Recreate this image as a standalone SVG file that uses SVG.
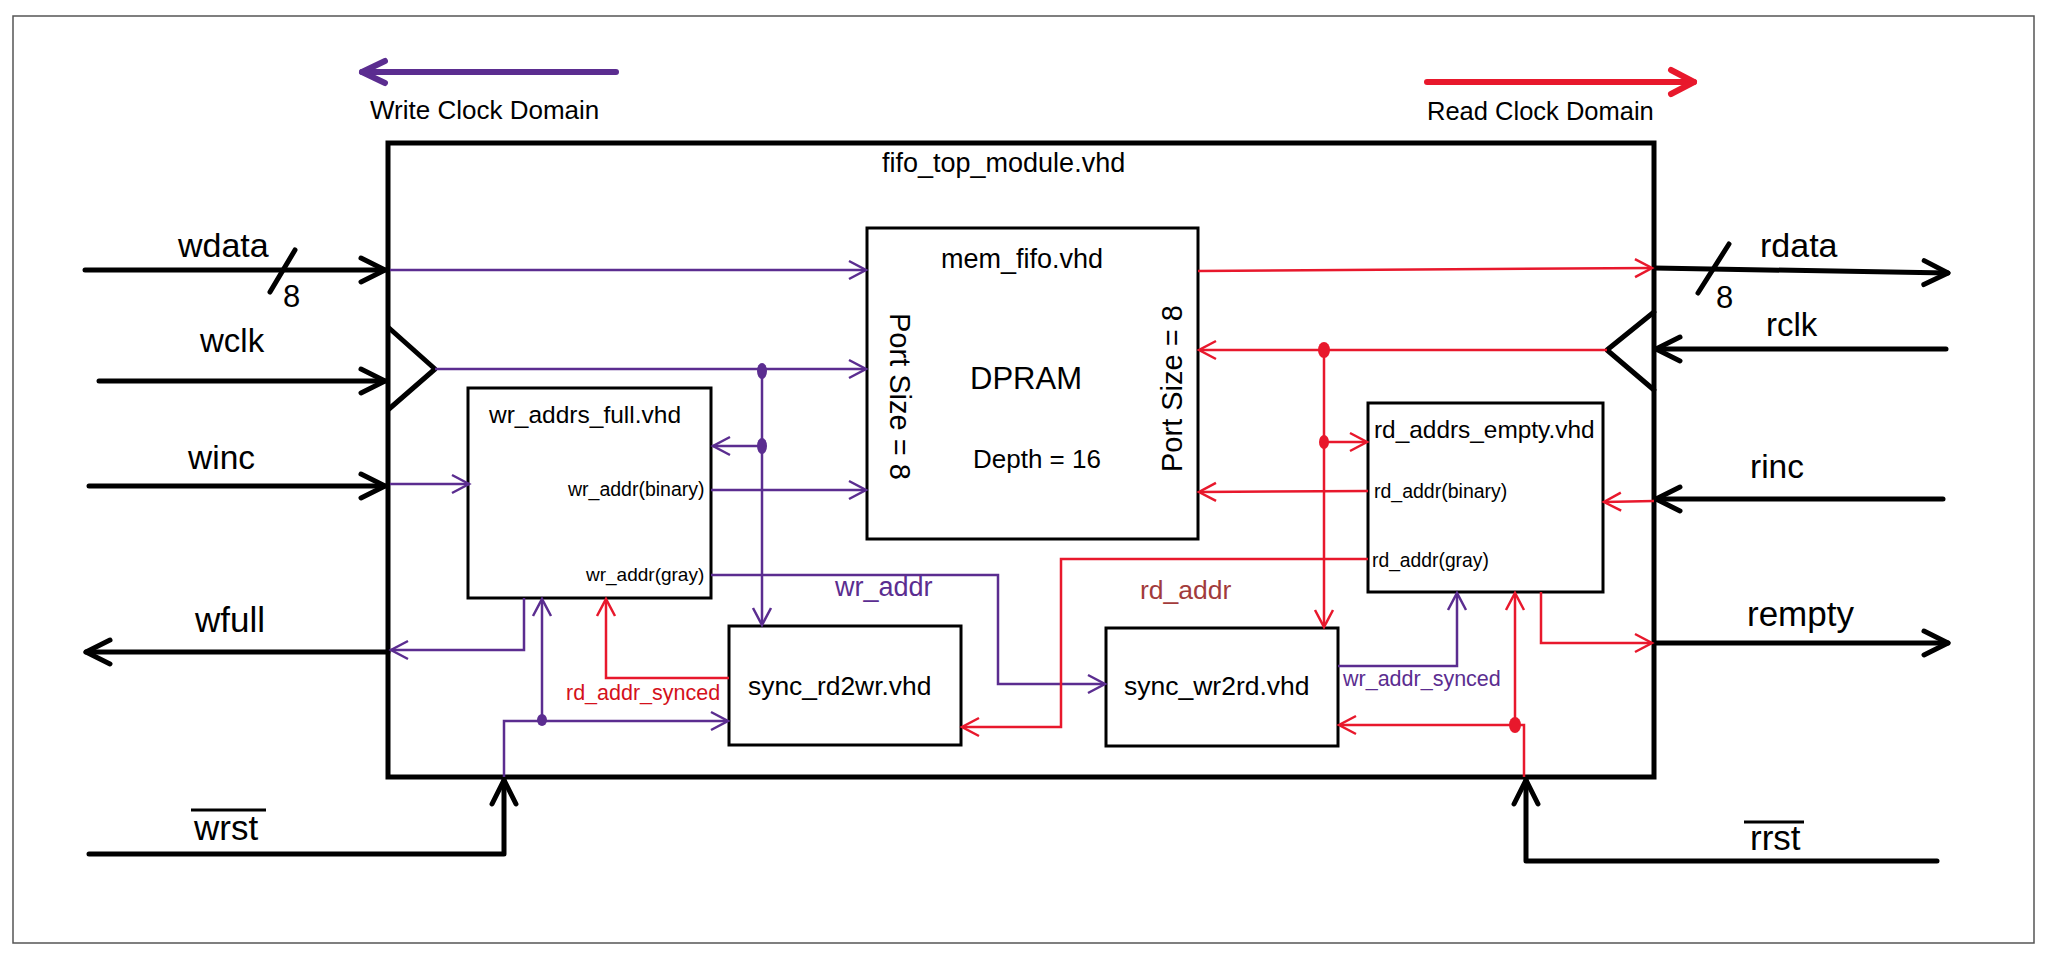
<svg xmlns="http://www.w3.org/2000/svg" width="2048" height="957" viewBox="0 0 2048 957">
<style>
text{font-family:"Liberation Sans",Arial,sans-serif;fill:#000}
.box{fill:#fff;stroke:#000;stroke-width:3}
.k{fill:none;stroke:#000;stroke-width:5;stroke-linecap:round;stroke-linejoin:round}
.p{fill:none;stroke:#5B2D90;stroke-width:2.5}
.r{fill:none;stroke:#E8182C;stroke-width:2.5}
.pt{fill:#5B2D90}
.rt{fill:#D4111B}
.lab{font-size:34px}
.sm{font-size:19.5px}
.mod{font-size:26px}
</style>
<defs>
<marker id="aK" markerUnits="userSpaceOnUse" orient="auto" overflow="visible" refX="0" refY="0" markerWidth="1" markerHeight="1"><path d="M-24,-12 L0,0 L-24,12" fill="none" stroke="#000" stroke-width="5" stroke-linecap="round" stroke-linejoin="round"/></marker>
<marker id="aP" markerUnits="userSpaceOnUse" orient="auto" overflow="visible" refX="0" refY="0" markerWidth="1" markerHeight="1"><path d="M-17,-9 L0,0 L-17,9" fill="none" stroke="#5B2D90" stroke-width="2.5"/></marker>
<marker id="aR" markerUnits="userSpaceOnUse" orient="auto" overflow="visible" refX="0" refY="0" markerWidth="1" markerHeight="1"><path d="M-17,-9 L0,0 L-17,9" fill="none" stroke="#E8182C" stroke-width="2.5"/></marker>
<marker id="aPb" markerUnits="userSpaceOnUse" orient="auto" overflow="visible" refX="0" refY="0" markerWidth="1" markerHeight="1"><path d="M-23,-11 L0,0 L-23,11" fill="none" stroke="#5B2D90" stroke-width="6" stroke-linecap="round" stroke-linejoin="round"/></marker>
<marker id="aRb" markerUnits="userSpaceOnUse" orient="auto" overflow="visible" refX="0" refY="0" markerWidth="1" markerHeight="1"><path d="M-23,-12 L0,0 L-23,12" fill="none" stroke="#E8182C" stroke-width="6" stroke-linecap="round" stroke-linejoin="round"/></marker>
</defs>
<rect x="0" y="0" width="2048" height="957" fill="#fff"/>
<rect id="frame" x="13" y="16" width="2021" height="927" fill="none" stroke="#555" stroke-width="1.5"/>

<g id="legend">
<path d="M616,72 H362" fill="none" stroke="#5B2D90" stroke-width="6" stroke-linecap="round" marker-end="url(#aPb)"/>
<text x="370" y="119" style="font-size:26px">Write Clock Domain</text>
<path d="M1427,82 H1694" fill="none" stroke="#E8182C" stroke-width="6" stroke-linecap="round" marker-end="url(#aRb)"/>
<text x="1427" y="120" style="font-size:25.5px">Read Clock Domain</text>
</g>

<g id="fifo_top_module">
<rect x="388" y="143" width="1266" height="634" fill="none" stroke="#000" stroke-width="5"/>
<text x="882" y="172" style="font-size:27px">fifo_top_module.vhd</text>
</g>

<g id="mem_fifo">
<rect class="box" x="867" y="228" width="331" height="311"/>
<text x="941" y="268" style="font-size:27px">mem_fifo.vhd</text>
<text x="970" y="389" style="font-size:31px">DPRAM</text>
<text x="973" y="468" style="font-size:26px">Depth = 16</text>
<text transform="translate(890,313) rotate(90)" style="font-size:29px">Port Size = 8</text>
<text transform="translate(1182,472) rotate(-90)" style="font-size:29px">Port Size = 8</text>
</g>

<g id="wr_addrs_full">
<rect class="box" x="468" y="388" width="243" height="210"/>
<text x="489" y="423" style="font-size:24.5px">wr_addrs_full.vhd</text>
<text x="568" y="496" class="sm">wr_addr(binary)</text>
<text x="586" y="581" style="font-size:19px">wr_addr(gray)</text>
</g>

<g id="rd_addrs_empty">
<rect class="box" x="1368" y="403" width="235" height="189"/>
<text x="1374" y="438" style="font-size:24.4px">rd_addrs_empty.vhd</text>
<text x="1374" y="498" class="sm">rd_addr(binary)</text>
<text x="1372" y="567" style="font-size:19.3px">rd_addr(gray)</text>
</g>

<g id="sync_rd2wr">
<rect class="box" x="729" y="626" width="232" height="119" stroke-width="3.5"/>
<text x="748" y="695" style="font-size:26.4px">sync_rd2wr.vhd</text>
</g>

<g id="sync_wr2rd">
<rect class="box" x="1106" y="628" width="232" height="118" stroke-width="3.5"/>
<text x="1124" y="695" style="font-size:26.5px">sync_wr2rd.vhd</text>
</g>

<g id="connectors">
<!-- black ports -->
<path class="k" d="M85,270 H385" marker-end="url(#aK)"/>
<path class="k" d="M295,250 L270,292"/>
<path class="k" d="M99,381 H385" marker-end="url(#aK)"/>
<path class="k" d="M389,328 L435,369 L389,409"/>
<path class="k" d="M89,486 H385" marker-end="url(#aK)"/>
<path class="k" d="M388,652 H86" marker-end="url(#aK)"/>
<path class="k" d="M89,854 H504 V780" marker-end="url(#aK)"/>
<path class="k" d="M1654,268 L1948,273" marker-end="url(#aK)"/>
<path class="k" d="M1729,244 L1698,293"/>
<path class="k" d="M1946,349 H1656" marker-end="url(#aK)"/>
<path class="k" d="M1654,312 L1607,350 L1654,390"/>
<path class="k" d="M1943,499 H1656" marker-end="url(#aK)"/>
<path class="k" d="M1654,643 H1948" marker-end="url(#aK)"/>
<path class="k" d="M1937,861 H1526 V780" marker-end="url(#aK)"/>
<!-- purple: write clock domain -->
<path class="p" d="M390,270 H866" marker-end="url(#aP)"/>
<path class="p" d="M435,369 H866" marker-end="url(#aP)"/>
<path class="p" d="M762,371 V625" marker-end="url(#aP)"/>
<path class="p" d="M762,446 H713" marker-end="url(#aP)"/>
<path class="p" d="M390,484 H469" marker-end="url(#aP)"/>
<path class="p" d="M711,490 H866" marker-end="url(#aP)"/>
<path class="p" d="M711,575 H998 V684 H1105" marker-end="url(#aP)"/>
<path class="p" d="M524,598 V650 H391" marker-end="url(#aP)"/>
<path class="p" d="M504,777 V721 H728" marker-end="url(#aP)"/>
<path class="p" d="M542,720 V599" marker-end="url(#aP)"/>
<path class="p" d="M1338,666 H1457 V593" marker-end="url(#aP)"/>
<ellipse class="pt" cx="762" cy="371" rx="5" ry="8"/>
<ellipse class="pt" cx="762" cy="446" rx="5" ry="8"/>
<ellipse class="pt" cx="542" cy="720" rx="5" ry="6"/>
<!-- red: read clock domain -->
<path class="r" d="M1198,271 L1652,268" marker-end="url(#aR)"/>
<path class="r" d="M1607,350 H1199" marker-end="url(#aR)"/>
<path class="r" d="M1324,350 V627" marker-end="url(#aR)"/>
<path class="r" d="M1324,442 H1367" marker-end="url(#aR)"/>
<path class="r" d="M1368,491 L1199,492" marker-end="url(#aR)"/>
<path class="r" d="M1368,559 H1061 V727 H962" marker-end="url(#aR)"/>
<path class="r" d="M729,678 H606 V599" marker-end="url(#aR)"/>
<path class="r" d="M1654,501 L1604,502" marker-end="url(#aR)"/>
<path class="r" d="M1541,592 V643 H1652" marker-end="url(#aR)"/>
<path class="r" d="M1524,777 V725 H1515 V593" marker-end="url(#aR)"/>
<path class="r" d="M1515,725 H1339" marker-end="url(#aR)"/>
<ellipse class="rt" style="fill:#E8182C" cx="1324" cy="350" rx="6" ry="8"/>
<ellipse class="rt" style="fill:#E8182C" cx="1324" cy="442" rx="5" ry="7"/>
<ellipse class="rt" style="fill:#E8182C" cx="1515" cy="725" rx="6" ry="8"/>
</g>

<g id="labels">
<text x="178" y="257" class="lab">wdata</text>
<text x="283" y="307" style="font-size:31px">8</text>
<text x="200" y="352" class="lab" style="font-size:33px">wclk</text>
<text x="188" y="469" class="lab" style="font-size:33.5px">winc</text>
<text x="195" y="632" class="lab" style="font-size:35px">wfull</text>
<text x="194" y="840" class="lab" style="font-size:35px">wrst</text>
<path d="M191,810 H266" stroke="#000" stroke-width="3"/>
<text x="1760" y="257" class="lab">rdata</text>
<text x="1716" y="308" style="font-size:31px">8</text>
<text x="1766" y="336" class="lab" style="font-size:33px">rclk</text>
<text x="1750" y="478" class="lab" style="font-size:33.5px">rinc</text>
<text x="1747" y="626" class="lab" style="font-size:35px">rempty</text>
<text x="1750" y="850" class="lab" style="font-size:35px">rrst</text>
<path d="M1744,822 H1804" stroke="#000" stroke-width="3"/>
<text x="835" y="596" class="pt" style="font-size:27px">wr_addr</text>
<text x="1140" y="599" style="font-size:26.5px;fill:#A23B3B">rd_addr</text>
<text x="566" y="700" class="rt" style="font-size:21.5px">rd_addr_synced</text>
<text x="1343" y="686" class="pt" style="font-size:21.5px">wr_addr_synced</text>
</g>
</svg>
